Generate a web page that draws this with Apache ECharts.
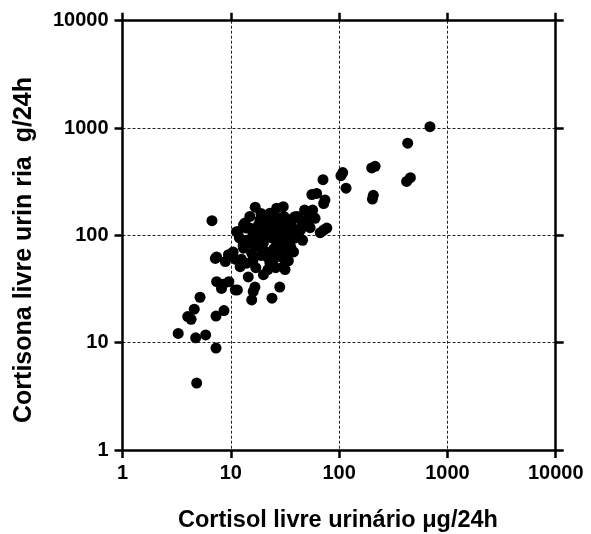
<!DOCTYPE html>
<html><head><meta charset="utf-8">
<script src="https://cdn.jsdelivr.net/npm/echarts@6/dist/echarts.min.js"></script>
<style>html,body{margin:0;padding:0;background:#fff}#c{width:591px;height:534px}</style>
</head><body><div id="c"></div>
<script>
const xTicks = [1, 10, 100, 1000, 10000];
const yTicks = [1, 10, 100, 1000, 10000];
const xTitle = 'Cortisol livre urinário \u03bcg/24h';
const yTitle = 'Cortisona livre urin ria  g/24h';
// cortisol (x) values
const cortisol = [
 690, 430, 200, 215, 420, 455, 203, 207, 104, 108, 116, 71, 56, 62, 72, 74,
 48, 57, 52, 39, 41, 60, 56, 54, 52, 77, 67, 72, 44, 40, 36, 39, 36, 35, 36,
 26.5, 30.5, 23, 16.8, 18.6, 20.7, 13.5, 13.1, 11.7, 11.3, 14, 15, 17.3, 21.4, 26.5, 35,
 6.7, 7.2, 9.5, 8.9, 7.4,
 12.2, 13.1, 15.6, 18.6, 21.4, 26.5, 23, 29.5, 31.7, 20, 14.5, 16.7, 16.1, 15.6, 24, 28.3, 30.5, 32.8, 35.2,
 7.4, 8.5, 9.6, 8.2, 11, 11.5,
 5.2, 4.6, 4.0, 4.3, 7.3, 8.65, 3.27, 4.74, 5.86, 7.3, 4.84, 26.5,
 12, 14, 16, 18, 20, 22, 24, 25, 28, 30, 17, 19, 22, 24, 27, 29, 32, 33, 21, 18, 15, 13, 10.5, 11, 12.5, 16, 25, 34, 38, 30, 28, 24, 19, 26, 22, 17, 32, 42, 46, 45, 50, 44, 35, 31, 27, 23, 19, 15, 14
];
// cortisone (y) values
const cortisona = [
 1030, 722, 425, 440, 318, 345, 218, 236, 360, 385, 275, 330, 240, 246, 198, 214,
 172, 172, 165, 149, 150, 144, 160, 118, 125, 117, 106, 112, 112, 112, 97, 94, 76, 81, 125,
 179, 185, 161, 183, 139, 139, 130, 125, 108, 108, 117, 117, 108, 112, 117, 121,
 137, 61, 66, 57, 63,
 51, 76, 68, 78, 70, 91, 55, 63, 48, 43, 41, 33, 30, 25, 26, 33, 51, 68, 81,
 37, 35, 37, 32, 31, 31,
 26.5, 20.5, 17.5, 16.5, 17.7, 19.9, 12.2, 11.1, 11.8, 8.9, 4.2, 85,
 95, 90, 100, 95, 85, 100, 95, 75, 100, 95, 80, 65, 62, 110, 70, 80, 100, 90, 120, 125, 85, 80, 70, 60, 60, 58, 60, 58, 70, 120, 130, 135, 105, 50, 48, 50, 110, 100, 90, 120, 135, 140, 140, 150, 145, 145, 160, 150, 55
];
const points = cortisol.map((v, i) => [v, cortisona[i]]);

const chart = echarts.init(document.getElementById('c'), null, {renderer: 'canvas'});
const FONT = 'Liberation Sans, Arial, sans-serif';
const fmt = v => String(Math.round(v));
function axis(pos, main, ticks, margin) {
  return {
    type: 'log', logBase: 10, min: ticks[0], max: ticks[ticks.length - 1], position: pos,
    axisLine: {show: true, onZero: false, lineStyle: {color: '#000', width: 2.5}},
    axisTick: {show: true, inside: false, length: 8, lineStyle: {color: '#000', width: 2.5}},
    minorTick: {show: false},
    splitLine: {show: main, lineStyle: {type: [3, 2], color: '#222', width: 1}},
    axisLabel: {show: main, color: '#000', fontSize: 20, fontWeight: 'bold', fontFamily: FONT, margin: margin, formatter: fmt}
  };
}
chart.setOption({
  animation: false,
  backgroundColor: '#fff',
  grid: {left: 122.5, right: 35.3, top: 20.7, bottom: 84, containLabel: false},
  xAxis: [axis('bottom', true, xTicks, 13), axis('top', false, xTicks, 10)],
  yAxis: [axis('left', true, yTicks, 14), axis('right', false, yTicks, 10)],
  series: [{
    type: 'scatter', xAxisIndex: 0, yAxisIndex: 0, data: points,
    symbol: 'circle', symbolSize: 11, itemStyle: {color: '#000', opacity: 1}
  }],
  graphic: [
    {type: 'text', x: 338, y: 521, style: {text: xTitle, font: 'bold 23.5px ' + FONT, fill: '#000', textAlign: 'center', textVerticalAlign: 'middle'}},
    {type: 'text', x: 24, y: 250, rotation: Math.PI / 2, style: {text: yTitle, font: 'bold 25px ' + FONT, fill: '#000', textAlign: 'center', textVerticalAlign: 'middle'}}
  ]
});
</script></body></html>
